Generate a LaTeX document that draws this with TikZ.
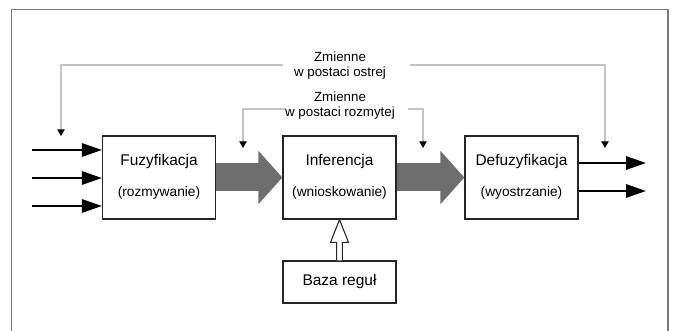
\documentclass[tikz,border=0pt]{standalone}
\usepackage{fontspec}
\setmainfont{Liberation Sans}
\usetikzlibrary{arrows.meta,calc}
\definecolor{framegray}{HTML}{7A7A7A}
\definecolor{fatgray}{HTML}{6E6E6E}
\definecolor{thingray}{HTML}{C4C4C4}
\begin{document}
\begin{tikzpicture}[x=0.75pt,y=-0.75pt,
  blockbox/.style={draw=black!85, line width=0.9pt, fill=white, inner sep=0pt,
    minimum width=84.75pt, minimum height=62.25pt},
  bazabox/.style={draw=black!85, line width=0.9pt, fill=white, inner sep=0pt,
    minimum width=84.75pt, minimum height=31.5pt, font=\fontsize{11.6pt}{13pt}\selectfont},
  maintext/.style={font=\fontsize{11.6pt}{13pt}\selectfont, inner sep=0pt},
  subtext/.style={font=\fontsize{10.3pt}{12pt}\selectfont, inner sep=0pt},
  fbtext/.style={font=\fontsize{10pt}{12pt}\selectfont, inner sep=0pt, align=center},
  fatarrow/.style={fatgray, line width=21pt, -{Triangle[length=18pt,width=39pt]}},
  iolink/.style={black, line width=1.5pt, -{Triangle[length=15pt,width=10pt]}},
  fblink/.style={thingray, line width=0.9pt},
  fbtip/.style={-{Triangle[length=5pt,width=5.5pt,color=black]}}
]
\useasboundingbox (0,0) rectangle (675,331);
% outer frame
\draw[framegray, line width=1pt] (11.5,335) -- (11.5,9.5) -- (668,9.5) -- (668,335);

% blocks
\node[blockbox] (fuz) at (159,177.5) {};
\node[blockbox] (inf) at (339.5,177.5) {};
\node[blockbox] (def) at (521.5,177.5) {};
\node[bazabox] (baza) at (339.5,282) {Baza reguł};

\node[maintext] (fuzA) at (159,162) {Fuzyfikacja};
\node[subtext]  (fuzB) at (159,193) {(rozmywanie)};
\node[maintext] (infA) at (339.5,162) {Inferencja};
\node[subtext]  (infB) at (339.5,193) {(wnioskowanie)};
\node[maintext] (defA) at (521.5,162) {Defuzyfikacja};
\node[subtext]  (defB) at (521.5,193) {(wyostrzanie)};

% fat gray arrows
\draw[fatarrow] (fuz.east) -- (inf.west);
\draw[fatarrow] (inf.east) -- (def.west);

% hollow arrow from rule base
\draw[black!85, line width=0.8pt, fill=white, line join=miter]
  ($(baza.north)+(-2.8,0)$) -- ($(baza.north)+(-2.8,-18)$) -- ($(baza.north)+(-9,-18)$)
  -- (inf.south) -- ($(baza.north)+(9,-18)$) -- ($(baza.north)+(2.8,-18)$)
  -- ($(baza.north)+(2.8,0)$);

% inputs
\coordinate (in1) at (32,150);
\coordinate (in2) at (32,178);
\coordinate (in3) at (32,206);
\draw[iolink] (in1) -- (in1 -| fuz.west);
\draw[iolink] (in2) -- (in2 -| fuz.west);
\draw[iolink] (in3) -- (in3 -| fuz.west);

% outputs
\coordinate (out1) at (646,163);
\coordinate (out2) at (646,191);
\draw[iolink] (out1 -| def.east) -- (out1);
\draw[iolink] (out2 -| def.east) -- (out2);

% feedback: crisp variables
\node[fbtext] (ostA) at (340,57) {Zmienne};
\node[fbtext] (ostB) at (340,73) {w postaci ostrej};
\coordinate (oL) at (61,65);
\coordinate (oLe) at (283,65);
\coordinate (oRs) at (410,65);
\coordinate (oR) at (605,65);
\coordinate (oLt) at (61,136);
\coordinate (oRt) at (605,148);
\draw[fblink, fbtip] (oLe) -- (oL) -- (oLt);
\draw[fblink, fbtip] (oRs) -- (oR) -- (oRt);

% feedback: fuzzy variables
\node[fbtext] (rozA) at (340,97) {Zmienne};
\node[fbtext] (rozB) at (340,113) {w postaci rozmytej};
\coordinate (rL) at (243,109);
\coordinate (rLe) at (285,109);
\coordinate (rRs) at (408,109);
\coordinate (rR) at (423,109);
\coordinate (rLt) at (243,148);
\coordinate (rRt) at (423,148);
\draw[fblink, fbtip] (rLe) -- (rL) -- (rLt);
\draw[fblink, fbtip] (rRs) -- (rR) -- (rRt);
\end{tikzpicture}
\end{document}
